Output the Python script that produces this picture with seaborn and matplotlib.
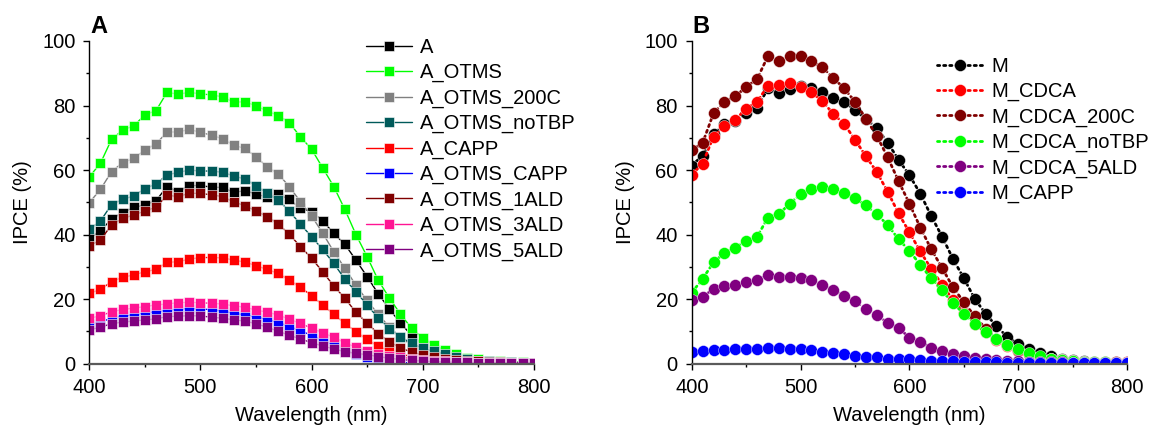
import numpy as np
import pandas as pd
import matplotlib
matplotlib.use("Agg")
import matplotlib.pyplot as plt
from matplotlib.ticker import MultipleLocator
import seaborn as sns

# Wavelength grid (nm)
wavelength = list(range(400, 801, 10))

# Panel A: IPCE (%) of the "A" photoanode series
A = [38.8, 41.2, 44.8, 46.8, 48.4, 49.2, 50.5, 54.9, 53.3, 55.2, 55.2, 54.7, 54.6, 53.1,
     53.6, 52.6, 51.6, 52.5, 50.9, 48.2, 47.1, 44.3, 40.4, 37.0, 32.1, 27.0, 21.7, 17.0,
     12.6, 8.8, 6.0, 4.3, 3.0, 2.0, 1.3, 0.9, 0.6, 0.5, 0.4, 0.3, 0.3]
A_OTMS = [57.9, 62.1, 69.5, 72.4, 73.7, 77.1, 78.4, 84.1, 83.5, 84.1, 83.6, 83.3, 82.7, 81.0,
          81.2, 79.9, 78.3, 76.9, 74.7, 70.3, 66.5, 60.7, 54.9, 47.8, 40.0, 33.2, 25.9, 20.4,
          15.4, 11.0, 8.0, 5.8, 4.2, 2.9, 1.9, 1.3, 0.9, 0.7, 0.5, 0.4, 0.3]
A_OTMS_200C = [49.9, 54.0, 59.5, 62.3, 63.6, 66.2, 68.1, 71.8, 71.8, 72.6, 71.7, 70.8, 69.7, 67.7,
               66.7, 64.1, 61.0, 58.8, 54.9, 50.2, 45.8, 40.5, 34.7, 29.6, 24.3, 19.6, 15.3, 11.4,
               8.2, 5.8, 4.0, 2.8, 2.0, 1.4, 1.0, 0.7, 0.5, 0.4, 0.3, 0.3, 0.2]
A_OTMS_noTBP = [41.6, 44.2, 49.3, 50.9, 52.0, 54.2, 55.7, 58.5, 59.3, 60.0, 59.7, 59.7, 59.3, 58.2,
                57.2, 55.2, 52.8, 50.7, 47.3, 43.2, 39.4, 35.4, 31.1, 26.2, 22.3, 18.2, 14.2, 10.9,
                8.3, 6.3, 4.8, 3.8, 3.0, 2.1, 1.4, 0.9, 0.7, 0.5, 0.4, 0.3, 0.3]
A_CAPP = [21.8, 23.0, 25.4, 26.8, 27.5, 28.5, 29.2, 31.4, 31.6, 32.4, 32.9, 32.9, 32.8, 32.1,
          31.5, 30.4, 29.2, 28.0, 25.9, 23.7, 21.1, 18.2, 15.3, 12.5, 9.9, 7.5, 5.4, 4.0,
          3.0, 2.2, 1.6, 1.2, 0.9, 0.7, 0.5, 0.4, 0.3, 0.3, 0.2, 0.2, 0.2]
A_OTMS_CAPP = [12.2, 12.9, 14.1, 14.8, 15.2, 15.7, 16.1, 16.6, 16.9, 17.1, 17.0, 16.7, 16.3, 15.7,
               15.1, 14.5, 13.8, 12.8, 11.6, 10.2, 8.8, 7.2, 5.8, 4.5, 3.0, 2.0, 1.2, 0.7,
               0.4, 0.3, 0.3, 0.2, 0.2, 0.2, 0.2, 0.2, 0.2, 0.2, 0.2, 0.2, 0.2]
A_OTMS_1ALD = [36.5, 38.3, 43.0, 45.0, 46.1, 47.3, 48.5, 52.2, 51.8, 52.8, 52.8, 52.3, 51.8, 50.1,
               49.0, 47.3, 45.6, 43.3, 40.1, 36.3, 32.7, 28.5, 24.1, 20.3, 15.9, 12.6, 9.3, 6.8,
               4.9, 3.6, 2.7, 2.1, 1.6, 1.2, 0.9, 0.7, 0.5, 0.4, 0.3, 0.3, 0.2]
A_OTMS_3ALD = [14.1, 14.8, 16.1, 16.8, 17.2, 17.7, 18.2, 18.5, 18.9, 19.0, 18.9, 18.7, 18.5, 17.9,
               17.5, 16.6, 16.0, 15.1, 13.8, 12.5, 11.0, 9.6, 8.2, 6.5, 5.1, 4.0, 3.1, 2.5,
               2.0, 1.6, 1.2, 0.9, 0.7, 0.5, 0.4, 0.3, 0.3, 0.3, 0.2, 0.2, 0.2]
A_OTMS_5ALD = [10.5, 11.3, 12.4, 12.9, 13.2, 13.6, 13.9, 14.6, 14.7, 14.9, 14.8, 14.4, 14.1, 13.6,
               13.2, 12.4, 11.3, 10.1, 8.8, 7.7, 6.5, 5.5, 4.6, 3.7, 3.2, 2.8, 2.2, 1.7,
               1.3, 1.0, 0.8, 0.6, 0.5, 0.4, 0.4, 0.3, 0.3, 0.3, 0.3, 0.3, 0.3]

series_a = ["A", "A_OTMS", "A_OTMS_200C", "A_OTMS_noTBP", "A_CAPP",
            "A_OTMS_CAPP", "A_OTMS_1ALD", "A_OTMS_3ALD", "A_OTMS_5ALD"]
values_a = [A, A_OTMS, A_OTMS_200C, A_OTMS_noTBP, A_CAPP,
            A_OTMS_CAPP, A_OTMS_1ALD, A_OTMS_3ALD, A_OTMS_5ALD]
colors_a = ["#000000", "#00ff00", "#808080", "#005a5a", "#ff0000",
            "#0000ff", "#800000", "#ff1493", "#800080"]

# Panel B: IPCE (%) of the "M" photoanode series
M = [61.4, 64.5, 71.1, 74.2, 75.3, 77.6, 79.2, 85.3, 84.0, 85.1, 86.0, 85.5, 84.3, 82.2,
     81.2, 78.6, 75.9, 73.0, 68.5, 63.2, 58.4, 52.7, 45.8, 39.4, 32.5, 26.5, 20.1, 15.5,
     11.6, 8.3, 6.0, 4.4, 3.2, 2.3, 1.6, 1.1, 0.8, 0.6, 0.5, 0.4, 0.4]
M_CDCA = [58.6, 62.0, 70.4, 73.5, 75.6, 79.0, 81.2, 86.1, 86.3, 87.1, 85.8, 84.1, 81.4, 77.4,
          74.3, 69.4, 64.3, 59.4, 53.3, 46.6, 40.7, 34.8, 29.4, 24.5, 19.8, 15.7, 12.4, 9.7,
          7.3, 5.4, 3.9, 2.9, 2.1, 1.5, 1.1, 0.8, 0.6, 0.5, 0.5, 0.5, 0.5]
M_CDCA_200C = [66.1, 68.4, 77.6, 81.2, 82.8, 85.8, 88.2, 95.3, 93.8, 95.3, 95.3, 93.7, 91.8, 88.6,
               85.3, 81.2, 75.9, 70.6, 64.0, 56.6, 49.6, 42.2, 35.5, 29.7, 23.7, 19.1, 14.7, 10.9,
               7.8, 5.7, 4.2, 3.0, 2.2, 1.6, 1.1, 0.8, 0.6, 0.5, 0.4, 0.4, 0.3]
M_CDCA_noTBP = [22.0, 26.3, 31.4, 34.3, 36.0, 37.9, 39.3, 45.3, 46.3, 49.6, 52.5, 54.0, 54.7, 54.0,
                52.8, 51.2, 49.1, 46.3, 43.0, 38.6, 35.0, 30.6, 26.5, 22.7, 18.8, 15.5, 12.4, 9.9,
                7.8, 5.9, 4.4, 3.3, 2.4, 1.6, 1.2, 0.8, 0.5, 0.4, 0.4, 0.3, 0.3]
M_CDCA_5ALD = [19.8, 20.8, 23.1, 24.2, 24.5, 25.3, 25.8, 27.5, 27.0, 27.0, 26.6, 25.8, 24.4, 22.7,
               21.1, 19.3, 17.0, 15.2, 12.6, 11.1, 8.1, 6.8, 4.9, 3.9, 3.0, 2.3, 1.8, 1.4,
               1.1, 0.9, 0.7, 0.6, 0.5, 0.4, 0.4, 0.3, 0.3, 0.3, 0.3, 0.3, 0.3]
M_CAPP = [3.5, 3.9, 4.2, 4.3, 4.4, 4.4, 4.5, 5.0, 4.8, 4.6, 4.4, 4.2, 3.7, 3.4,
          3.0, 2.4, 2.2, 2.0, 1.6, 1.5, 1.3, 1.1, 0.9, 0.8, 0.7, 0.6, 0.5, 0.4,
          0.4, 0.3, 0.3, 0.3, 0.2, 0.2, 0.2, 0.2, 0.2, 0.2, 0.2, 0.2, 0.2]

series_b = ["M", "M_CDCA", "M_CDCA_200C", "M_CDCA_noTBP", "M_CDCA_5ALD", "M_CAPP"]
values_b = [M, M_CDCA, M_CDCA_200C, M_CDCA_noTBP, M_CDCA_5ALD, M_CAPP]
colors_b = ["#000000", "#ff0000", "#800000", "#00ff00", "#800080", "#0000ff"]


def long_table(names, values):
    return pd.DataFrame({
        "Wavelength": np.tile(wavelength, len(names)),
        "IPCE": np.concatenate([np.asarray(v, float) for v in values]),
        "sample": np.repeat(names, len(wavelength)),
    })


df_a = long_table(series_a, values_a)
df_b = long_table(series_b, values_b)

sns.set_style("ticks")
plt.rcParams["font.family"] = ["Liberation Sans", "DejaVu Sans"]
plt.rcParams["font.size"] = 14.5
for key in ("text.color", "axes.labelcolor", "xtick.color", "ytick.color"):
    plt.rcParams[key] = "black"

FS = 14.5

fig = plt.figure(figsize=(11.51, 4.30), dpi=100)
ax_a = fig.add_axes([0.0776, 0.1542, 0.3861, 0.7505])
ax_b = fig.add_axes([0.6010, 0.1542, 0.3782, 0.7505])

sns.lineplot(data=df_a, x="Wavelength", y="IPCE", hue="sample", hue_order=series_a,
             palette=colors_a, ax=ax_a, marker="s", markersize=7.8, markeredgewidth=0.4,
             linewidth=1.0, linestyle="-", sort=False, estimator=None, legend=False)

sns.lineplot(data=df_b, x="Wavelength", y="IPCE", hue="sample", hue_order=series_b,
             palette=colors_b, ax=ax_b, marker="o", markersize=8.6, markeredgewidth=0.3,
             linewidth=2.0, sort=False, estimator=None, legend=False)
for line in ax_b.get_lines():
    line.set_linestyle((0, (0.8, 1.4)))
    line.set_dash_capstyle("round")

for ax, label in [(ax_a, "A"), (ax_b, "B")]:
    ax.set_xlim(400, 800)
    ax.set_ylim(0, 100)
    ax.xaxis.set_major_locator(MultipleLocator(100))
    ax.xaxis.set_minor_locator(MultipleLocator(50))
    ax.yaxis.set_major_locator(MultipleLocator(20))
    ax.yaxis.set_minor_locator(MultipleLocator(10))
    ax.tick_params(which="major", direction="out", length=4, width=1, pad=6,
                   labelsize=FS, color="black", labelcolor="black")
    ax.tick_params(which="minor", direction="out", length=2.5, width=1, color="black")
    ax.spines["top"].set_visible(False)
    ax.spines["right"].set_visible(False)
    ax.spines["left"].set_color("black")
    ax.spines["left"].set_linewidth(1.0)
    ax.spines["bottom"].set_color("#5a5a5a")
    ax.spines["bottom"].set_linewidth(1.6)
    ax.set_xlabel("Wavelength (nm)", fontsize=FS, labelpad=7, color="black")
    ax.set_ylabel("IPCE (%)", fontsize=FS, labelpad=7, color="black")
    ax.text(0.002, 1.01, label, transform=ax.transAxes, fontsize=17, fontweight="bold",
            ha="left", va="bottom", color="black")

handles_a = ax_a.get_lines()[:len(series_a)]
fig.legend(handles_a, series_a, loc="upper left", bbox_to_anchor=(0.318, 0.912),
           frameon=False, fontsize=FS, handlelength=2.3, handletextpad=0.4,
           labelspacing=0.31, borderpad=0, borderaxespad=0, numpoints=1,
           labelcolor="black")

handles_b = ax_b.get_lines()[:len(series_b)]
fig.legend(handles_b, series_b, loc="upper left", bbox_to_anchor=(0.814, 0.868),
           frameon=False, fontsize=FS, handlelength=2.3, handletextpad=0.4,
           labelspacing=0.31, borderpad=0, borderaxespad=0, numpoints=1,
           labelcolor="black")

fig.savefig("out.png", dpi=100)
